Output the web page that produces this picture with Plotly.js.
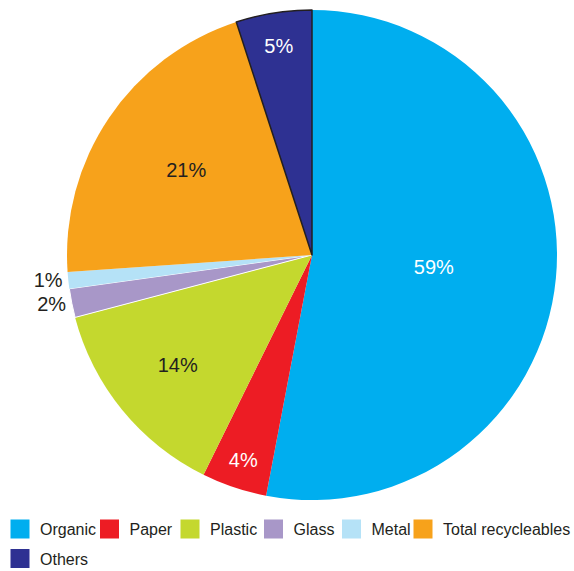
<!DOCTYPE html>
<html>
<head>
<meta charset="utf-8">
<script src="https://cdn.plot.ly/plotly-3.0.1.min.js"></script>
<style>html,body{margin:0;padding:0;background:#fff;}#chart{width:574px;height:571px;}</style>
</head>
<body>
<div id="chart"></div>
<script>
// Categories and slice sizes (as drawn), plus printed labels
const categories = ["Organic", "Paper", "Plastic", "Glass", "Metal", "Total recycleables", "Others"];
const sliceValues = [53.0, 4.3, 13.6, 1.9, 1.1, 21.1, 5.0];
const sliceLabels = ["59%", "4%", "14%", "2%", "1%", "21%", "5%"];

const colors = ["#00aeef", "#ed1c24", "#c4d82e", "#a897c8", "#b5e2f7", "#f7a21b", "#2e3192"];
const labelColors = ["#ffffff", "#ffffff", "#231f20", "#231f20", "#231f20", "#231f20", "#ffffff"];
const labelPositions = ["inside", "inside", "inside", "outside", "outside", "inside", "inside"];
const lineColors = ["#ffffff", "#ffffff", "#ffffff", "#ffffff", "#ffffff", "#ffffff", "#231f20"];
const lineWidths = [0, 0, 0, 1, 0, 0, 1.5];

// legend layout: which legend row each entry goes in and its text-area width
const legendRow = ["legend", "legend", "legend", "legend", "legend", "legend", "legend2"];
const legendWidths = [44.5, 35.5, 38.5, 33, 26.5, 129, 50];

const W = 574, H = 571;
const FONT = "Liberation Sans, Arial, sans-serif";

const pie = {
  type: "pie",
  labels: categories,
  values: sliceValues,
  text: sliceLabels,
  textinfo: "text",
  hoverinfo: "label+text",
  textposition: labelPositions,
  insidetextorientation: "horizontal",
  sort: false,
  direction: "clockwise",
  rotation: 0,
  showlegend: false,
  marker: { colors: colors, line: { color: lineColors, width: lineWidths } },
  textfont: { family: FONT, size: 20, color: labelColors },
  domain: { x: [67 / W, 557 / W], y: [(H - 500) / H, (H - 10) / H] }
};

// legend-only entries (no data points), one per category
const legendTraces = categories.map((name, i) => ({
  type: "scatter",
  mode: "markers",
  name: name,
  x: [null],
  y: [null],
  showlegend: true,
  legend: legendRow[i],
  legendwidth: legendWidths[i],
  hoverinfo: "skip",
  marker: { symbol: "square", size: 16, color: colors[i], line: { color: colors[i], width: 3 } }
}));

const legendStyle = {
  orientation: "h",
  x: 0,
  xanchor: "left",
  yanchor: "middle",
  bgcolor: "rgba(0,0,0,0)",
  borderwidth: 0,
  font: { family: FONT, size: 16, color: "#231f20" },
  traceorder: "normal"
};

const layout = {
  width: W,
  height: H,
  margin: { l: 0, r: 0, t: 0, b: 0, autoexpand: false },
  paper_bgcolor: "#ffffff",
  plot_bgcolor: "rgba(0,0,0,0)",
  showlegend: true,
  xaxis: { visible: false, showgrid: false, zeroline: false },
  yaxis: { visible: false, showgrid: false, zeroline: false },
  legend: Object.assign({}, legendStyle, { y: (H - 529) / H }),
  legend2: Object.assign({}, legendStyle, { y: (H - 558.5) / H })
};

Plotly.newPlot("chart", [pie].concat(legendTraces), layout, { displayModeBar: false, staticPlot: true });
</script>
</body>
</html>
